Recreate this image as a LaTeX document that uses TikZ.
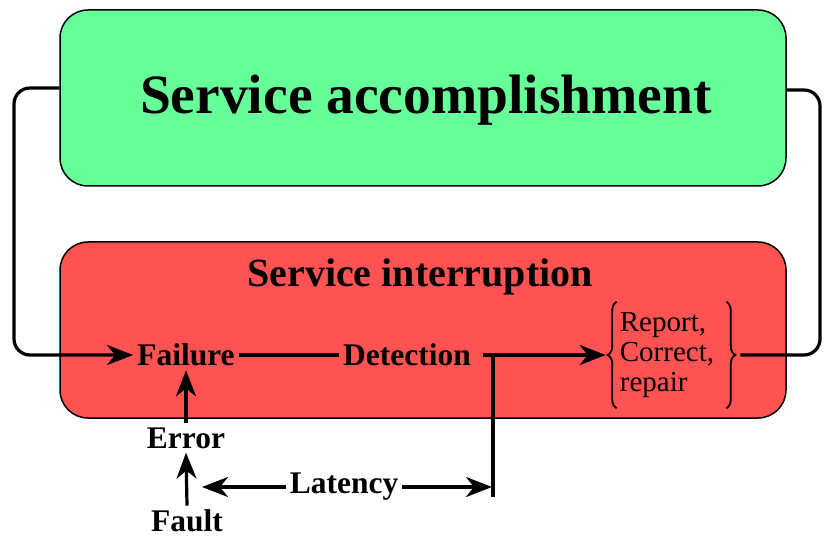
\documentclass[tikz,border=0pt]{standalone}
\usepackage{fontspec}
\setmainfont{Liberation Serif}
\usetikzlibrary{arrows.meta,calc,decorations.pathreplacing}
\definecolor{accgreen}{RGB}{102,255,153}
\definecolor{intred}{RGB}{255,82,82}
\begin{document}
\begin{tikzpicture}[x=1pt,y=-1pt,
  statebox/.style={draw=black,line width=1.5pt,rounded corners=28pt,
    minimum width=726pt,minimum height=176pt,inner sep=0pt},
  bigtitle/.style={font=\fontsize{55.5}{60}\selectfont\bfseries,inner sep=0pt},
  midtitle/.style={font=\fontsize{40}{44}\selectfont\bfseries,inner sep=0pt},
  lbl/.style={font=\fontsize{31.5}{34}\selectfont\bfseries,inner sep=4pt},
  conn/.style={line width=3.2pt},
  tip/.style={-{Stealth[length=26pt,width=20pt,inset=8pt]}},
  curly/.style={line width=1.8pt,decorate,decoration={brace,amplitude=9pt,aspect=0.5}}
]
\useasboundingbox (0,0) rectangle (824,537);

% the two service states
\node[statebox,fill=accgreen] (acc) at (423,98) {};
\node[bigtitle] (acctitle) at (426,100) {Service accomplishment};
\node[statebox,fill=intred] (intr) at (423,330) {};
\node[midtitle] (inttitle) at (420,277) {Service interruption};

% events inside the interruption state
\node[lbl] (fail) at (186,355) {Failure};
\node[lbl] (det) at (407,355) {Detection};
\node[inner sep=0pt,font=\fontsize{29}{30}\selectfont] (fix) at (667,355)
  {\begin{tabular}{@{}l@{}}Report,\\Correct,\\repair\end{tabular}};
\coordinate (fixL) at ($(fix.west)+(-14,0)$);
\coordinate (fixR) at ($(fix.east)+(26,0)$);
\coordinate (detR) at ($(det.east)+(8,0)$);
\draw[curly] ($(fix.south west)+(-3,8)$) -- ($(fix.north west)+(-3,-8)$);
\draw[curly] ($(fix.north east)+(12,-8)$) -- ($(fix.south east)+(12,8)$);

% causes below
\node[lbl] (err) at (186,438) {Error};
\node[lbl] (fault) at (187,521) {Fault};
\node[lbl] (lat) at (344,487) {Latency};

% loop corners and tap points
\coordinate (lcorner) at (14,88);
\coordinate (rcorner) at (820,90);
\coordinate (dtap) at (493,357);
\coordinate (latend) at (493,497);
\coordinate (latL) at (202,487);
\coordinate (latR) at (492,487);

% loops between the two states
\draw[conn,tip,rounded corners=16pt] ($(acc.west)+(0,-10)$) -- (lcorner) |- (fail.west);
\draw[conn,rounded corners=16pt] (fixR) -| (rcorner) -- ($(acc.east)+(0,-8)$);

% chain inside the interruption state
\draw[conn] (fail) -- (det);
\draw[conn,tip] (detR) -- (fixL);
\draw[conn] (dtap) -- (latend);

% error and fault arrows
\draw[conn,tip] (err.north) -- (fail.south);
\draw[conn,tip] (fault.north) -- (err.south);

% latency span
\draw[conn,tip] (lat.west) -- (latL);
\draw[conn,tip] (lat.east) -- (latR);
\end{tikzpicture}
\end{document}
